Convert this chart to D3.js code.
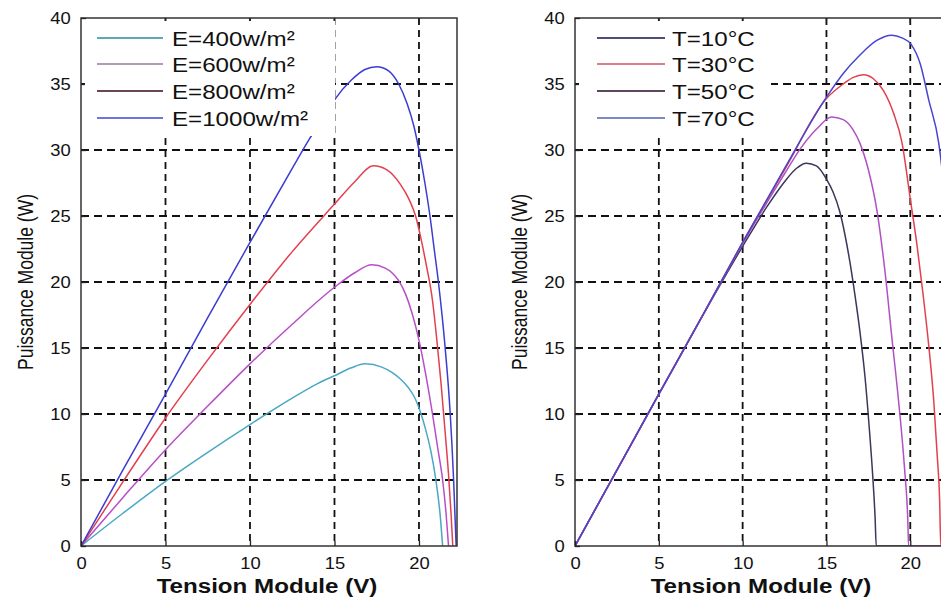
<!DOCTYPE html>
<html>
<head>
<meta charset="utf-8">
<script src="https://cdn.jsdelivr.net/npm/d3@7"></script>
<style>
  body { margin: 0; background: #fff; }
  svg { display: block; }
  text { font-family: "Liberation Sans", Arial, sans-serif; fill: #111; }
</style>
</head>
<body>
<div id="chart"></div>
<script>
// data: [tension (V), puissance (W)]
const e400 = [[0,0],[2.5,2.5],[5,4.9],[7.5,7.1],[10,9.2],[12.5,11.2],[14,12.3],[15,12.9],[16,13.5],[16.8,13.8],[17.8,13.55],[18.4,13.15],[18.9,12.65],[19.4,11.95],[19.8,11.1],[20.1,10.1],[20.4,8.8],[20.7,7.2],[21,5.0],[21.25,2.4],[21.4,0]];
const e600 = [[0,0],[2.5,3.7],[5,7.3],[7.5,10.6],[10,13.8],[12.5,16.8],[15,19.6],[16.2,20.7],[17.2,21.3],[18,21.05],[18.4,20.7],[18.8,20.1],[19.2,19.1],[19.6,17.6],[20,15.6],[20.4,13.0],[20.8,10],[21.1,7.5],[21.4,5],[21.6,2.5],[21.75,0]];
const e800 = [[0,0],[2.5,4.9],[5,9.7],[7.5,14.1],[10,18.3],[12.5,22.3],[15,25.9],[16.2,27.6],[17.3,28.8],[18.1,28.5],[18.9,27.4],[19.4,26.3],[19.8,25.0],[20.1,23.4],[20.4,21.5],[20.8,18.6],[21.05,15.7],[21.3,12.4],[21.55,8.6],[21.75,5.4],[21.9,2.4],[22,0]];
const e1000 = [[0,0],[2.5,5.8],[5,11.5],[7.5,17.3],[10,23],[12.5,28.6],[13.5,30.8],[14.5,32.8],[15,33.8],[16,35.3],[16.8,36.1],[17.5,36.3],[18.2,36.0],[18.8,35.0],[19.3,33.5],[19.7,31.8],[20,30],[20.35,27.5],[20.65,25],[20.9,22.5],[21.15,20],[21.55,15],[21.85,10],[22.05,5],[22.2,0]];

const t10 = [[0,0],[2.5,5.75],[5,11.5],[7.5,17.2],[10,22.7],[11.5,25.8],[12.5,27.6],[13.2,28.6],[13.8,29.0],[14.4,28.8],[15,27.8],[15.4,26.8],[15.8,25.3],[16.1,23.6],[16.4,21.5],[16.7,19.0],[17,16.2],[17.3,12.8],[17.55,9.0],[17.75,5.5],[17.9,2.2],[17.97,0],[22.3,0]];
const t30 = [[0,0],[2.5,5.75],[5,11.5],[7.5,17.2],[10,22.9],[12.5,28.2],[13.5,30.2],[14.5,31.7],[15.3,32.5],[16,32.3],[16.6,31.5],[17,30.5],[17.5,28.5],[18,25.5],[18.5,20.7],[18.9,15.8],[19.3,11],[19.65,6],[19.85,2],[19.9,0],[22.3,0]];
const t50 = [[0,0],[2.5,5.75],[5,11.5],[7.5,17.2],[10,23],[12.5,28.5],[15,33.9],[16,35.0],[16.6,35.5],[17.2,35.7],[17.8,35.4],[18.4,34.5],[19,32.8],[19.5,30.6],[20,26.3],[20.4,22.8],[20.75,19.2],[21.1,15.2],[21.4,11],[21.6,7],[21.75,3.5],[21.82,0],[22.3,0]];
const t70 = [[0,0],[2.5,5.75],[5,11.5],[7.5,17.2],[10,23],[12.5,28.6],[15,34],[16,35.8],[17,37.2],[18,38.3],[18.9,38.7],[19.5,38.5],[20.05,38],[20.6,36.5],[21.1,33.8],[21.7,30.5],[22.1,26],[22.3,23]];

const legendE = ["E=400w/m²", "E=600w/m²", "E=800w/m²", "E=1000w/m²"];
const legendT = ["T=10°C", "T=30°C", "T=50°C", "T=70°C"];
const xTicks = [0, 5, 10, 15, 20];
const yTicks = [0, 5, 10, 15, 20, 25, 30, 35, 40];

// the picture is a bit stretched sideways, so text is too
const sx = 1.15;

const W = 941, H = 599;
const plotTop = 18, plotBottom = 546;

const svg = d3.select("#chart").append("svg")
  .attr("width", W)
  .attr("height", H);

const panels = [
  { x0: 81, x1: 457, series: [e400, e600, e800, e1000],
    colors: ["#4aa8c4", "#b84ec8", "#e2404e", "#3c3cd0"],
    legend: legendE, legendColors: ["#2a8aa4", "#a070a8", "#3a0a18", "#4444d4"],
    legendBox: {w: 250, lineX: [16, 82], textX: 91} },
  { x0: 575, x1: 948, series: [t10, t30, t50, t70],
    colors: ["#38385a", "#b050c4", "#e2404e", "#4646d0"],
    legend: legendT, legendColors: ["#12124e", "#d05262", "#240824", "#5262b4"],
    legendBox: {w: 192, lineX: [22, 90], textX: 97} }
];

const legendRows = [38, 64, 91, 118];

panels.forEach(function(p, i) {
  const x = d3.scaleLinear().domain([0, 22.25]).range([p.x0, p.x1]);
  const y = d3.scaleLinear().domain([0, 40]).range([plotBottom, plotTop]);
  const g = svg.append("g");

  // grid
  g.selectAll(".vgrid").data(xTicks.slice(1))
    .enter().append("line")
    .attr("x1", d => x(d)).attr("x2", d => x(d))
    .attr("y1", plotTop).attr("y2", plotBottom)
    .attr("stroke", "#111").attr("stroke-width", 1.8)
    .attr("stroke-dasharray", "7,5");

  g.selectAll(".hgrid").data(yTicks.slice(1, -1))
    .enter().append("line")
    .attr("x1", p.x0).attr("x2", p.x1)
    .attr("y1", d => y(d)).attr("y2", d => y(d))
    .attr("stroke", "#111").attr("stroke-width", 1.8)
    .attr("stroke-dasharray", "8,5");

  // curves
  const clipId = "clip" + i;
  svg.append("clipPath").attr("id", clipId)
    .append("rect")
    .attr("x", p.x0).attr("y", plotTop)
    .attr("width", p.x1 - p.x0).attr("height", plotBottom - plotTop);

  const line = d3.line()
    .x(d => x(d[0]))
    .y(d => y(d[1]))
    .curve(d3.curveMonotoneX);

  g.append("g").attr("clip-path", "url(#" + clipId + ")")
    .selectAll("path").data(p.series)
    .enter().append("path")
    .attr("d", line)
    .attr("fill", "none")
    .attr("stroke", (d, k) => p.colors[k])
    .attr("stroke-width", 1.5);

  // frame
  g.append("rect")
    .attr("x", p.x0).attr("y", plotTop)
    .attr("width", p.x1 - p.x0).attr("height", plotBottom - plotTop)
    .attr("fill", "none")
    .attr("stroke", "#333").attr("stroke-width", 1.5);

  // axes (MATLAB style ticks pointing in)
  const xAxis = g.append("g")
    .attr("transform", "translate(0," + plotBottom + ")")
    .call(d3.axisBottom(x).tickValues(xTicks).tickSizeInner(-5).tickSizeOuter(0).tickPadding(9));
  const yAxis = g.append("g")
    .attr("transform", "translate(" + p.x0 + ",0)")
    .call(d3.axisLeft(y).tickValues(yTicks).tickSizeInner(-5).tickSizeOuter(0).tickPadding(9));

  [xAxis, yAxis].forEach(function(a) {
    a.select(".domain").remove();
    a.selectAll(".tick line").attr("stroke", "#222").attr("stroke-width", 1.3);
    a.selectAll(".tick text")
      .style("font-size", "16px")
      .attr("fill", "#111")
      .attr("transform", "scale(" + sx + ",1)");
  });
  xAxis.selectAll(".tick text").attr("dy", "0.85em");

  // top ticks
  g.selectAll(".ttick").data(xTicks.slice(1))
    .enter().append("line")
    .attr("x1", d => x(d)).attr("x2", d => x(d))
    .attr("y1", plotTop).attr("y2", plotTop + 5)
    .attr("stroke", "#222").attr("stroke-width", 1.3);

  // axis titles
  g.append("text")
    .attr("transform", "translate(" + (p.x0 - 48) + ",282) rotate(-90) scale(1,1.25)")
    .attr("text-anchor", "middle")
    .style("font-size", "17.5px")
    .text("Puissance Module (W)");

  g.append("text")
    .attr("transform", "translate(" + (p.x0 + 186) + ",593) scale(" + sx + ",1)")
    .attr("text-anchor", "middle")
    .style("font-size", "21px")
    .style("font-weight", "bold")
    .text("Tension Module (V)");

  // legend
  const lg = g.append("g");
  lg.append("rect")
    .attr("x", p.x0 + 4).attr("y", 21)
    .attr("width", p.legendBox.w).attr("height", 115)
    .attr("fill", "#fff");

  p.legend.forEach(function(name, k) {
    lg.append("line")
      .attr("x1", p.x0 + p.legendBox.lineX[0]).attr("x2", p.x0 + p.legendBox.lineX[1])
      .attr("y1", legendRows[k]).attr("y2", legendRows[k])
      .attr("stroke", p.legendColors[k]).attr("stroke-width", 1.4);
    lg.append("text")
      .attr("transform", "translate(" + (p.x0 + p.legendBox.textX) + "," + (legendRows[k] + 8) + ") scale(" + sx + ",1)")
      .style("font-size", "21px")
      .text(name);
  });
});
</script>
</body>
</html>
